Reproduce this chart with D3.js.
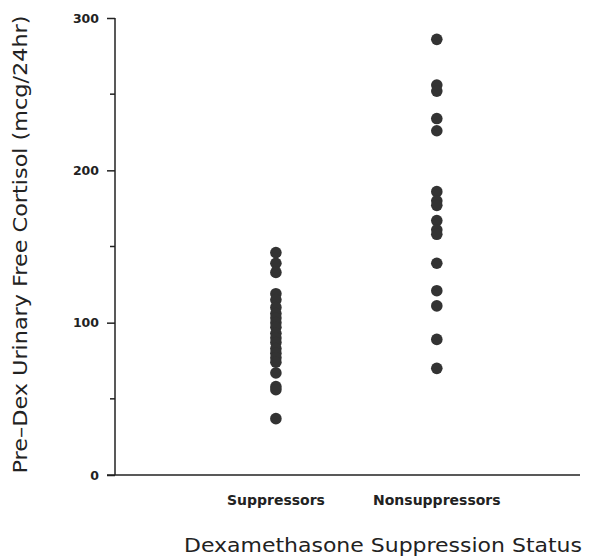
<!DOCTYPE html>
<html>
<head>
<meta charset="utf-8">
<script src="https://cdn.jsdelivr.net/npm/d3@7"></script>
<style>
  body { margin:0; background:#fff; }
  svg text { font-family: "DejaVu Sans", Verdana, sans-serif; fill:#222; }
</style>
</head>
<body>
<svg id="chart" width="595" height="558"></svg>
<script>
const categories = ['Suppressors', 'Nonsuppressors'];
const suppressors = [146, 139, 133, 119, 115, 110, 106, 103, 100, 97, 93, 90, 87, 83, 80, 77, 74, 67, 58, 56, 37];
const nonsuppressors = [286, 256, 252, 234, 226, 186, 180, 177, 167, 161, 158, 139, 121, 111, 89, 70];
const majorTicks = [0, 100, 200, 300];
const minorTicks = [50, 150, 250];

const svg = d3.select('#chart');
const margin = { top:18, right:15, bottom:83, left:115 };
const W = 595, H = 558;

const y = d3.scaleLinear().domain([0, 300]).range([H - margin.bottom, margin.top]);
const x = d3.scaleLinear().domain([0, 2.89]).range([margin.left, W - margin.right]);

// y axis with major labelled ticks
const yAxis = svg.append('g').attr('transform', `translate(${margin.left},0)`)
  .call(d3.axisLeft(y).tickValues(majorTicks).tickSize(8).tickPadding(8).tickFormat(d3.format('d')));
yAxis.selectAll('text').style('font-size','12.5px').style('font-weight','bold');
yAxis.selectAll('line,path').attr('stroke','#222').attr('stroke-width',1.5);
yAxis.select('.domain').attr('d', `M0,${y(300)}V${y(0)}`);

svg.append('g').attr('transform', `translate(${margin.left},0)`)
  .selectAll('line').data(minorTicks).join('line')
  .attr('x1', -5).attr('x2', 0)
  .attr('y1', d => y(d)).attr('y2', d => y(d))
  .attr('stroke','#222').attr('stroke-width',1.5);

// x axis line
svg.append('line')
  .attr('x1', margin.left - 8).attr('x2', x(2.89))
  .attr('y1', y(0)).attr('y2', y(0))
  .attr('stroke','#222').attr('stroke-width',1.5);

// category labels
svg.selectAll('.cat').data(categories).join('text')
  .attr('class','cat')
  .attr('x', (d,i) => x(i + 1)).attr('y', y(0) + 30)
  .attr('text-anchor','middle')
  .style('font-size','14px').style('font-weight','bold')
  .text(d => d);

// dots
const groups = [suppressors, nonsuppressors];
groups.forEach((vals, i) => {
  svg.append('g').selectAll('circle').data(vals).join('circle')
    .attr('cx', x(i + 1))
    .attr('cy', d => y(d))
    .attr('r', 5.8)
    .attr('fill', '#333');
});

// axis titles
svg.append('text')
  .attr('x', 383).attr('y', 552)
  .attr('text-anchor','middle')
  .attr('textLength', 398).attr('lengthAdjust','spacingAndGlyphs')
  .style('font-size','20px')
  .text('Dexamethasone Suppression Status');

svg.append('text')
  .attr('transform', `translate(27,${(y(0) + y(300)) / 2 - 2}) rotate(-90)`)
  .attr('text-anchor','middle')
  .attr('textLength', 458).attr('lengthAdjust','spacingAndGlyphs')
  .style('font-size','19px')
  .text('Pre\u2013Dex Urinary Free Cortisol (mcg/24hr)');
</script>
</body>
</html>
